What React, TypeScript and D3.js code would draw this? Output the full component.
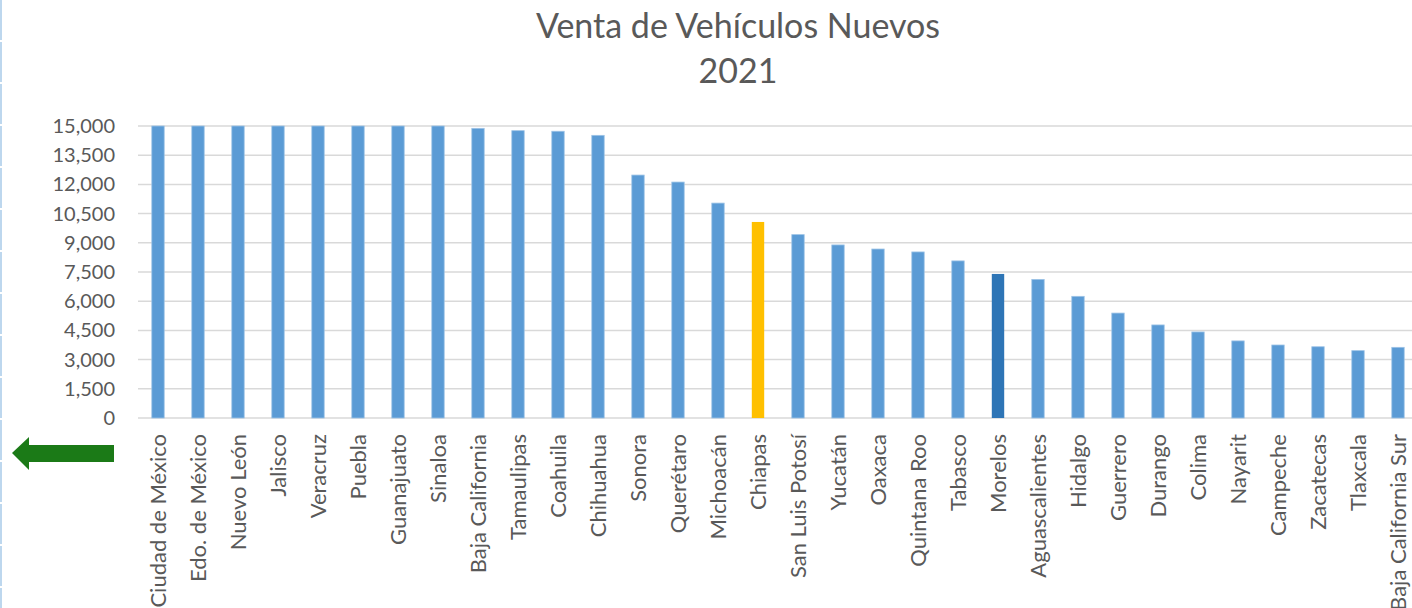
import React from "react";
import * as d3 from "d3";

const states = [
  "Ciudad de México", "Edo. de México", "Nuevo León", "Jalisco", "Veracruz", "Puebla",
  "Guanajuato", "Sinaloa", "Baja California", "Tamaulipas", "Coahuila", "Chihuahua",
  "Sonora", "Querétaro", "Michoacán", "Chiapas", "San Luis Potosí", "Yucatán", "Oaxaca",
  "Quintana Roo", "Tabasco", "Morelos", "Aguascalientes", "Hidalgo", "Guerrero", "Durango",
  "Colima", "Nayarit", "Campeche", "Zacatecas", "Tlaxcala", "Baja California Sur",
];

// unidades vendidas (eje recortado en 15,000)
const sales = [
  15000, 15000, 15000, 15000, 15000, 15000, 15000, 15000, 14880, 14760, 14730, 14520,
  12480, 12120, 11040, 10070, 9420, 8890, 8680, 8530, 8070, 7400, 7120, 6250, 5390, 4780,
  4420, 3960, 3750, 3660, 3460, 3630,
];

const yTicks = [0, 1500, 3000, 4500, 6000, 7500, 9000, 10500, 12000, 13500, 15000];

const highlight: Record<string, string> = {
  Chiapas: "#FFC000",
  Morelos: "#2E75B6",
};

const W = 1412;
const H = 608;
const margin = { top: 126, left: 138, bottom: 190 };
const FONT = "Lato, 'Open Sans', sans-serif";
const TEXT = "#595959";

export default function App() {
  const x = d3
    .scaleBand<string>()
    .domain(states)
    .range([margin.left, margin.left + states.length * 40])
    .paddingInner(0.69)
    .paddingOuter(0.345);

  const y = d3
    .scaleLinear()
    .domain([0, 15000])
    .range([H - margin.bottom, margin.top]);

  return (
    <svg
      width={W}
      height={H}
      style={{ position: "absolute", left: 0, top: 0, background: "#fff" }}
      fontFamily={FONT}
    >
      <line x1={1} x2={1} y1={0} y2={H} stroke="#BDD7EE" strokeWidth={2} strokeDasharray="40 2" />

      <text x={738} y={38} textAnchor="middle" fontSize={34} fill={TEXT}>
        Venta de Vehículos Nuevos
      </text>
      <text x={738} y={83} textAnchor="middle" fontSize={34} fill={TEXT}>
        2021
      </text>

      {yTicks.map((t) => (
        <g key={t}>
          <line x1={margin.left} x2={W} y1={y(t)} y2={y(t)} stroke="#D9D9D9" strokeWidth={1.5} />
          <text x={115} y={y(t)} dy="0.35em" textAnchor="end" fontSize={20} fill={TEXT}>
            {d3.format(",")(t)}
          </text>
        </g>
      ))}

      {states.map((s, i) => (
        <rect
          key={s}
          x={x(s)}
          y={y(sales[i])}
          width={x.bandwidth()}
          height={y(0) - y(sales[i])}
          fill={highlight[s] || "#5B9BD5"}
          stroke={highlight[s] ? "none" : "#9DC3E6"}
          strokeWidth={0.8}
        />
      ))}

      {states.map((s) => {
        const cx = (x(s) || 0) + x.bandwidth() / 2;
        return (
          <text
            key={s}
            transform={`translate(${cx},434) rotate(-90)`}
            dy="0.35em"
            textAnchor="end"
            fontSize={22}
            fill={TEXT}
          >
            {s}
          </text>
        );
      })}

      <path d="M12,453 L29,437 L29,445 L114,445 L114,462 L29,462 L29,470 Z" fill="#1B7A17" />
    </svg>
  );
}
